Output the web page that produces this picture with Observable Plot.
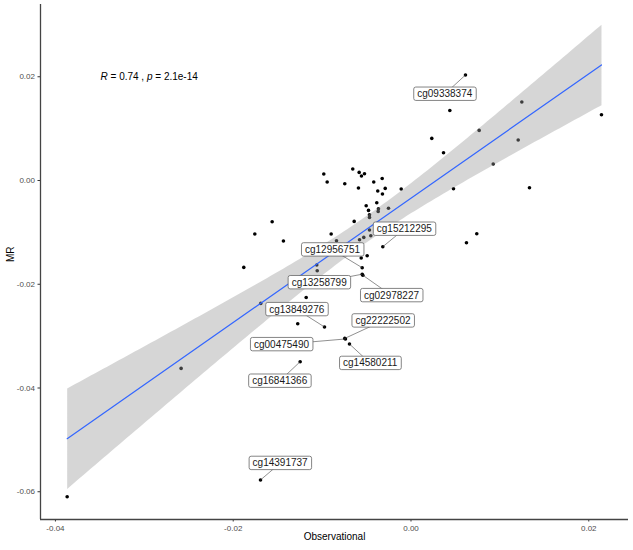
<!DOCTYPE html>
<html><head><meta charset="utf-8">
<script src="https://cdn.jsdelivr.net/npm/d3@7"></script>
<script src="https://cdn.jsdelivr.net/npm/@observablehq/plot@0.6"></script>
<style>
body{margin:0;background:#fff;}
#chart svg{font-family:"Liberation Sans",Arial,sans-serif;display:block;}
</style>
</head><body><div id="chart"></div>
<script>
// ---- data ----
const observational = [
  0.00613, 0.00437, 0.01247, 0.02143, 0.00767, 0.00234, 0.01206, 0.00366, 0.00925,
  -0.00324, -0.00290, -0.00110, -0.00321, 0.00478, 0.01333, -0.00253, 0.00740, 0.00624, -0.00317,
  -0.00655, -0.00583, -0.00523, -0.00557, -0.00981, -0.00943, -0.00745, -0.00591, -0.00419, -0.00374,
  -0.00385, -0.00504, -0.00478, -0.00366, -0.00369, -0.00467, -0.00467, -0.00639, -0.01562, -0.01757,
  -0.00898, -0.01435, -0.00838, -0.00579, -0.00531, -0.00452, -0.00467, -0.01881, -0.01060, -0.01055,
  -0.00560, -0.00493, -0.00549, -0.00549, -0.00542, -0.01179, -0.01690, -0.01274, -0.00973, -0.00745,
  -0.00737, -0.00692, -0.01247, -0.01693, -0.02586, -0.03868
];
const mr = [
  0.02034, 0.01351, 0.01513, 0.01268, 0.00966, 0.00812, 0.00781, 0.00536, 0.00318,
  0.00040, -0.00152, -0.00164, -0.00260, -0.00158, -0.00139, -0.00534, -0.01026, -0.01199, -0.01276,
  0.00222, 0.00156, 0.00131, 0.00087, 0.00125, -0.00029, -0.00062, -0.00145, -0.00029, -0.00202,
  -0.00428, -0.00486, -0.00576, -0.00544, -0.00596, -0.00659, -0.00711, -0.00788, -0.00794, -0.01031,
  -0.01031, -0.01166, -0.01160, -0.01141, -0.01097, -0.01064, -0.00954, -0.01675, -0.01629, -0.01739,
  -0.01494, -0.01450, -0.01681, -0.01806, -0.01826, -0.02254, -0.02369, -0.02760, -0.02824, -0.03044,
  -0.03055, -0.03152, -0.03493, -0.05773, -0.03622, -0.06095
];
// labelled probes: name, index of the point, label centre (data units)
const labelNames = ["cg09338374","cg15212295","cg12956751","cg13258799","cg02978227","cg13849276",
  "cg22222502","cg00475490","cg14580211","cg16841366","cg14391737"];
const labelPoint = [0, 18, 51, 52, 53, 57, 58, 59, 60, 61, 62];
const labelX = [0.00380, -0.00075, -0.00883, -0.01033, -0.00219, -0.01285, -0.00315, -0.01457, -0.00459, -0.01477, -0.01472];
const labelY = [0.01667, -0.00935, -0.01334, -0.01966, -0.02215, -0.02485, -0.02703, -0.03160, -0.03522, -0.03865, -0.05450];

const xTicks = [-0.04, -0.02, 0.00, 0.02];
const yTicks = [-0.06, -0.04, -0.02, 0.00, 0.02];
const xDomain = [-0.04168, 0.02447];
const yDomain = [-0.06535, 0.03393];
const xTitle = "Observational";
const yTitle = "MR";
const statR = "0.74", statP = "2.1e-14";
const statPos = [-0.03493, 0.02007];

// ---- build tables ----
const points = observational.map((x, i) => ({x, y: mr[i]}));
const labels = labelNames.map((name, i) => ({
  name, px: observational[labelPoint[i]], py: mr[labelPoint[i]], lx: labelX[i], ly: labelY[i]
}));
const fmt = d => d.toFixed(2);
const statString = `R = ${statR} , p = ${statP}`;

const chart = Plot.plot({
  width: 633, height: 550,
  marginLeft: 40, marginRight: 5, marginTop: 4, marginBottom: 31,
  style: {fontFamily: "Liberation Sans, Arial, sans-serif", background: "#fff"},
  x: {domain: xDomain, label: null},
  y: {domain: yDomain, label: null},
  marks: [
    Plot.axisX({ticks: xTicks, tickFormat: fmt, tickSize: 2.5, tickPadding: 3, fontSize: 8, color: "#4d4d4d", stroke: "#333", label: null}),
    Plot.axisY({ticks: yTicks, tickFormat: fmt, tickSize: 2.5, tickPadding: 3, fontSize: 8, color: "#4d4d4d", stroke: "#333", label: null}),
    Plot.ruleX([xDomain[0]], {stroke: "#444", strokeWidth: 1.3}),
    Plot.ruleY([yDomain[0]], {stroke: "#444", strokeWidth: 1.3}),
    Plot.dot(points, {x: "x", y: "y", r: 1.8, fill: "black", stroke: "none"}),
    Plot.linearRegressionY(points, {x: "x", y: "y", ci: 0.95, stroke: "#3366FF", strokeWidth: 1.2, fill: "#999", fillOpacity: 0.4}),
    Plot.link(labels, {x1: "px", y1: "py", x2: "lx", y2: "ly", stroke: "#444", strokeWidth: 0.6}),
    Plot.text(labels, {x: "lx", y: "ly", text: "name", fontSize: 10, fill: "#1a1a1a"}),
    Plot.text([statString], {x: () => statPos[0], y: () => statPos[1], textAnchor: "start", fontSize: 10, fill: "black"}),
    Plot.text([xTitle], {frameAnchor: "bottom", dy: 20, fontSize: 10, fill: "black"}),
    Plot.text([yTitle], {frameAnchor: "left", dx: -30, rotate: -90, fontSize: 10, fill: "black"})
  ]
});
document.getElementById("chart").appendChild(chart);

// label boxes behind each probe label
const ns = "http://www.w3.org/2000/svg";
const nameSet = new Set(labelNames);
Array.from(chart.querySelectorAll("text")).forEach(t => {
  const s = t.textContent.trim();
  if (nameSet.has(s)) {
    const b = t.getBBox();
    const r = document.createElementNS(ns, "rect");
    const padX = 3.5, padY = 1.2;
    r.setAttribute("x", b.x - padX); r.setAttribute("y", b.y - padY);
    r.setAttribute("width", b.width + 2 * padX); r.setAttribute("height", b.height + 2 * padY);
    r.setAttribute("rx", 2); r.setAttribute("fill", "white");
    r.setAttribute("stroke", "#666"); r.setAttribute("stroke-width", 0.8);
    if (t.getAttribute("transform")) r.setAttribute("transform", t.getAttribute("transform"));
    t.parentNode.insertBefore(r, t);
  } else if (s === statString) {
    // italic R and p in the statistic annotation
    while (t.firstChild) t.removeChild(t.firstChild);
    const parts = [["R", true], [` = ${statR} , `, false], ["p", true], [` = ${statP}`, false]];
    parts.forEach(([txt, it]) => {
      const sp = document.createElementNS(ns, "tspan");
      sp.textContent = txt;
      if (it) sp.setAttribute("font-style", "italic");
      t.appendChild(sp);
    });
  }
});
</script>
</body></html>
